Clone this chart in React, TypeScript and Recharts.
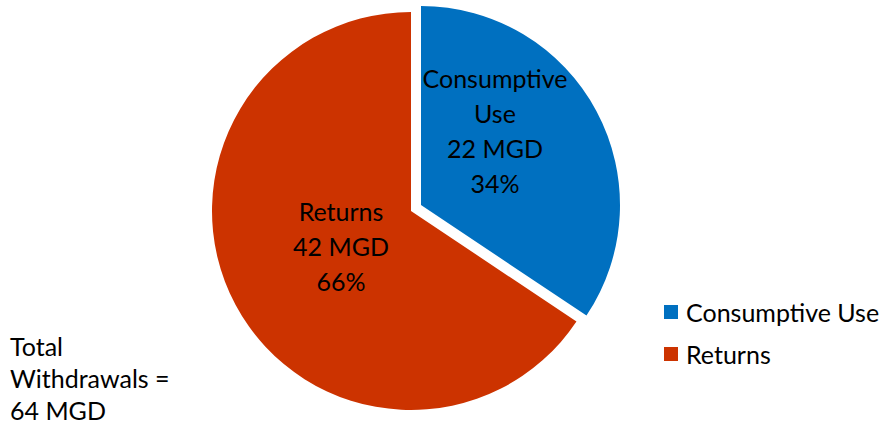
import React from "react";
import { PieChart, Pie, Cell, Legend } from "recharts";

const names = ["Consumptive Use", "Returns"];
const mgd = [22, 42];
const percents = ["34%", "66%"];
const labelLines = [
  ["Consumptive", "Use", "22 MGD", "34%"],
  ["Returns", "42 MGD", "66%"],
];
const colors = ["#0070C0", "#CC3300"];
const totalLines = ["Total", "Withdrawals =", "64 MGD"];

const data = names.map((name, i) => ({ name, value: mgd[i], pct: percents[i] }));

const FONT = "Lato, 'Open Sans', sans-serif";

// label baseline offsets from each pie's centre (placed by hand like Office does)
const labelOffset = [
  { dx: 74, dy: -117 },
  { dx: -70, dy: 10 },
];

function makeLabel(only: number) {
  return (props: any) => {
    const { cx, cy, index } = props;
    if (index !== only) return null;
    const lines = labelLines[index];
    const lh = 35;
    const x = cx + labelOffset[index].dx;
    const y0 = cy + labelOffset[index].dy;
    return (
      <text x={x} y={y0} textAnchor="middle" fill="#000" fontSize={25} fontFamily={FONT}>
        {lines.map((l, k) => (
          <tspan key={k} x={x} y={y0 + k * lh}>
            {l}
          </tspan>
        ))}
      </text>
    );
  };
}

function LegendContent() {
  return (
    <div style={{ fontFamily: FONT, fontSize: 25, color: "#000" }}>
      {names.map((n, i) => (
        <div key={n} style={{ display: "flex", alignItems: "center", height: 42 }}>
          <span
            style={{
              display: "inline-block",
              width: 14,
              height: 14,
              background: colors[i],
              marginRight: 8,
            }}
          />
          {n}
        </div>
      ))}
    </div>
  );
}

export default function App() {
  const r = 199;
  return (
    <div style={{ position: "absolute", left: 0, top: 0, width: 883, height: 425, background: "#fff" }}>
      <PieChart width={883} height={425} margin={{ top: 0, right: 0, bottom: 0, left: 0 }}>
        {/* returns slice, not exploded */}
        <Pie
          data={data}
          dataKey="value"
          nameKey="name"
          cx={411}
          cy={211}
          outerRadius={r}
          startAngle={90}
          endAngle={-270}
          stroke="none"
          label={makeLabel(1)}
          labelLine={false}
          isAnimationActive={false}
        >
          {data.map((d, i) => (
            <Cell key={d.name} fill={i === 1 ? colors[1] : "transparent"} />
          ))}
        </Pie>
        {/* consumptive slice, pulled out */}
        <Pie
          data={data}
          dataKey="value"
          nameKey="name"
          cx={421}
          cy={205}
          outerRadius={r}
          startAngle={90}
          endAngle={-270}
          stroke="none"
          label={makeLabel(0)}
          labelLine={false}
          isAnimationActive={false}
          legendType="none"
        >
          {data.map((d, i) => (
            <Cell key={d.name} fill={i === 0 ? colors[0] : "transparent"} />
          ))}
        </Pie>
        <Legend
          layout="vertical"
          content={<LegendContent />}
          wrapperStyle={{ left: 664, top: 291, width: 220 }}
        />
      </PieChart>
      <div
        style={{
          position: "absolute",
          left: 10,
          top: 330,
          fontFamily: FONT,
          fontSize: 25,
          lineHeight: "32px",
          color: "#000",
        }}
      >
        {totalLines.map((t) => (
          <div key={t}>{t}</div>
        ))}
      </div>
    </div>
  );
}
